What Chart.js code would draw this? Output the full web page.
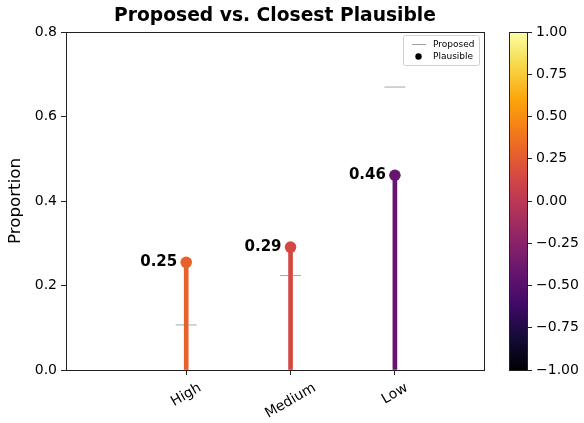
<!DOCTYPE html>
<html>
<head>
<meta charset="utf-8">
<script src="https://cdn.jsdelivr.net/npm/chart.js@4.4.0/dist/chart.umd.min.js"></script>
<style>
  html, body { margin: 0; padding: 0; background: #fff; }
  canvas { display: block; }
</style>
</head>
<body>
<canvas id="c" width="584" height="423"></canvas>
<script>
// Categories and the two series
const categories = ['High', 'Medium', 'Low'];
const plausible = [0.2549, 0.291, 0.461];
const proposed = [0.1066, 0.2235, 0.6697];
const stemColors = ['#e8612b', '#d44843', '#66166e'];

// Tick labels
const yTicks = [0, 0.2, 0.4, 0.6, 0.8];
const colorbarTicks = [-1, -0.75, -0.5, -0.25, 0, 0.25, 0.5, 0.75, 1];

// Inferno colour map samples (0 .. 1)
const infernoStops = ['#000004', '#160b39', '#420a68', '#6a176e', '#932667',
  '#bc3754', '#dd513a', '#f37819', '#fca50a', '#f6d746', '#fcffa4'];

const FONT = '"DejaVu Sans", "Liberation Sans", sans-serif';
const SPINE = '#222';
Chart.defaults.font.family = FONT;
Chart.defaults.color = '#000';

const fmtSigned = v => (v < 0 ? '\u2212' : '') + Math.abs(v).toFixed(2);

const decorations = {
  id: 'decorations',
  beforeDatasetsDraw(chart) {
    const ctx = chart.ctx;
    const cb = chart.scales.cb;
    // colour bar
    const x1 = cb.left, x0 = cb.left - 18;
    const g = ctx.createLinearGradient(0, cb.bottom, 0, cb.top);
    infernoStops.forEach((c, i) => g.addColorStop(i / (infernoStops.length - 1), c));
    ctx.save();
    ctx.fillStyle = g;
    ctx.fillRect(x0, cb.top, x1 - x0, cb.bottom - cb.top);
    ctx.strokeStyle = SPINE;
    ctx.lineWidth = 1;
    ctx.strokeRect(Math.round(x0) + 0.5, Math.round(cb.top) + 0.5,
      Math.round(x1 - x0), Math.round(cb.bottom - cb.top));
    ctx.restore();
  },
  afterDraw(chart) {
    const ctx = chart.ctx;
    const area = chart.chartArea;
    ctx.save();

    // top and right spines
    ctx.strokeStyle = SPINE;
    ctx.lineWidth = 1;
    ctx.beginPath();
    ctx.moveTo(Math.round(area.left), Math.round(area.top) + 0.5);
    ctx.lineTo(Math.round(area.right) + 1, Math.round(area.top) + 0.5);
    ctx.moveTo(Math.round(area.right) + 0.5, Math.round(area.top));
    ctx.lineTo(Math.round(area.right) + 0.5, Math.round(area.bottom) + 1);
    ctx.stroke();

    // title, centred over the plot area
    ctx.fillStyle = '#000';
    ctx.font = 'bold 18.7px ' + FONT;
    ctx.textAlign = 'center';
    ctx.textBaseline = 'middle';
    ctx.fillText('Proposed vs. Closest Plausible', (area.left + area.right) / 2, 16);

    // rotated category labels
    const xs = chart.scales.x;
    ctx.font = '14px ' + FONT;
    const ang = Math.PI / 6;
    categories.forEach((lab, i) => {
      const px = xs.getPixelForValue(i);
      const w = ctx.measureText(lab).width;
      const h = 14 * 1.164;
      const bh = w * Math.sin(ang) + h * Math.cos(ang);
      const cy = xs.top + 5 + 4.9 + bh / 2;
      ctx.save();
      ctx.translate(px, cy);
      ctx.rotate(-ang);
      ctx.textAlign = 'center';
      ctx.textBaseline = 'middle';
      ctx.fillText(lab, 0, 0);
      ctx.restore();
    });

    // value labels beside the plausible markers
    const dots = chart.getDatasetMeta(2).data;
    ctx.font = 'bold 15px ' + FONT;
    ctx.textAlign = 'right';
    ctx.textBaseline = 'middle';
    dots.forEach((pt, i) => {
      ctx.fillText(plausible[i].toFixed(2), pt.x - 9, pt.y);
    });

    // legend
    const lx = 403, ly = 35.5, lw = 76, lh = 30;
    ctx.fillStyle = 'rgba(255,255,255,0.8)';
    ctx.strokeStyle = '#d0d0d0';
    ctx.lineWidth = 1;
    ctx.beginPath();
    ctx.roundRect(lx + 0.5, ly, lw, lh, 2);
    ctx.fill();
    ctx.stroke();
    ctx.strokeStyle = 'rgba(128,128,128,0.75)';
    ctx.beginPath();
    ctx.moveTo(412, 44.5);
    ctx.lineTo(426, 44.5);
    ctx.stroke();
    ctx.fillStyle = '#000';
    ctx.beginPath();
    ctx.arc(418.5, 56.5, 3.2, 0, Math.PI * 2);
    ctx.fill();
    ctx.font = '9px ' + FONT;
    ctx.textAlign = 'left';
    ctx.textBaseline = 'middle';
    ctx.fillText('Proposed', 433, 44.5);
    ctx.fillText('Plausible', 433, 56.5);

    ctx.restore();
  }
};

new Chart(document.getElementById('c'), {
  type: 'bar',
  data: {
    datasets: [
      {
        type: 'bar',
        label: 'Stem',
        data: categories.map((c, i) => ({ x: i, y: plausible[i] })),
        backgroundColor: stemColors,
        borderWidth: 0,
        barThickness: 4,
        order: 3
      },
      {
        type: 'scatter',
        label: 'Proposed',
        data: categories.map((c, i) => ({ x: i, y: proposed[i] })),
        pointStyle: 'line',
        pointRadius: 10.5,
        borderColor: 'rgba(128,128,128,0.7)',
        borderWidth: 1,
        order: 1
      },
      {
        type: 'scatter',
        label: 'Plausible',
        data: categories.map((c, i) => ({ x: i, y: plausible[i] })),
        pointRadius: 5.8,
        backgroundColor: stemColors,
        borderColor: stemColors,
        borderWidth: 0,
        order: 2
      }
    ]
  },
  options: {
    responsive: false,
    devicePixelRatio: 1,
    animation: false,
    events: [],
    layout: { padding: { top: 32, left: 0, right: 0, bottom: 0 } },
    plugins: {
      legend: { display: false },
      title: { display: false },
      tooltip: { enabled: false }
    },
    scales: {
      x: {
        type: 'linear',
        min: -1.152,
        max: 2.854,
        offset: false,
        afterBuildTicks: s => { s.ticks = categories.map((c, i) => ({ value: i })); },
        afterFit: s => { s.height = 53; },
        ticks: { display: false },
        grid: { offset: false, drawOnChartArea: false, drawTicks: true, tickLength: 5, color: SPINE },
        border: { display: true, color: SPINE, width: 1 }
      },
      y: {
        type: 'linear',
        position: 'left',
        min: 0,
        max: 0.8,
        afterBuildTicks: s => { s.ticks = yTicks.map(v => ({ value: v })); },
        afterFit: s => { s.width = 66; },
        ticks: {
          callback: v => Number(v).toFixed(1),
          font: { size: 14 },
          color: '#000',
          padding: 4
        },
        grid: { drawOnChartArea: false, drawTicks: true, tickLength: 5, color: SPINE },
        border: { display: true, color: SPINE, width: 1 },
        title: {
          display: true,
          text: 'Proportion',
          font: { size: 16.7 },
          color: '#000',
          padding: { top: 6, bottom: 0 }
        }
      },
      gap: {
        type: 'linear',
        position: 'right',
        weight: 0,
        min: 0,
        max: 1,
        afterFit: s => { s.width = 43; },
        ticks: { display: false },
        grid: { display: false, drawOnChartArea: false },
        border: { display: false }
      },
      cb: {
        type: 'linear',
        position: 'right',
        weight: 1,
        min: -1,
        max: 1,
        afterBuildTicks: s => { s.ticks = colorbarTicks.map(v => ({ value: v })); },
        afterFit: s => { s.width = 57; },
        ticks: {
          callback: v => fmtSigned(Number(v)),
          font: { size: 14 },
          color: '#000',
          padding: 4
        },
        grid: { drawOnChartArea: false, drawTicks: true, tickLength: 5, color: SPINE },
        border: { display: true, color: SPINE, width: 1 }
      }
    }
  },
  plugins: [decorations]
});
</script>
</body>
</html>
